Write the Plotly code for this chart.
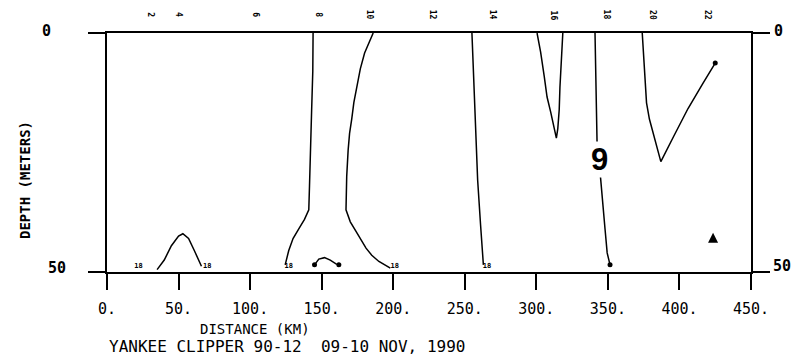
import plotly.graph_objects as go

# ---- data (distance km, depth m) ----
tick_km = [0, 50, 100, 150, 200, 250, 300, 350, 400, 450]
tick_text = ["0.", "50.", "100.", "150.", "200.", "250.", "300.", "350.", "400.", "450."]

station_km = [30.7, 50.3, 104, 148, 184, 228, 270, 312, 349, 381.5, 420]
station_text = ["2", "4", "6", "8", "10", "12", "14", "16", "18", "20", "22"]

c_a_km = [35, 40, 45, 50, 53, 57, 61, 64, 66]
c_a_dep = [49.5, 47.5, 44.5, 42.5, 42, 43, 45.5, 47.5, 48.8]
c_b_km = [144, 143.8, 143, 142.5, 141.5, 141, 138, 134, 130, 127, 124.5]
c_b_dep = [0, 8, 16, 24, 32, 37, 39, 41, 43, 45.5, 48.5]
c_c_km = [186, 183, 180, 177, 174.5, 172.5, 171, 169.5, 168.5, 167.5, 167, 170, 174, 177, 181, 185, 190, 198]
c_c_dep = [0, 2, 4.2, 7.5, 11.3, 14.5, 18, 21, 24.5, 30, 37, 39.5, 41.5, 43, 45, 46.5, 47.8, 49.2]
c_d_km = [145, 148, 152, 156, 160, 162]
c_d_dep = [48.5, 47.3, 47, 47.5, 48.3, 48.5]
c_e_km = [255, 256, 257, 258, 259, 261, 263]
c_e_dep = [0, 8, 16, 24, 30.8, 40, 48.5]
c_f_km = [300.5, 303, 305.5, 307.5, 310, 312, 314, 315, 316, 316.5, 317.5, 318.5]
c_f_dep = [0, 4, 9, 13.4, 16.5, 19.5, 22, 20, 16, 11.3, 5, 0]
c_g_km = [341, 341.5, 342, 342.5, 344.5, 346.5, 348, 349.5, 351.5]
c_g_dep = [0, 8, 16, 24, 29, 35, 41, 46, 48.5]
c_h_km = [374, 375.5, 377, 379, 381.8, 384.5, 387, 396, 406, 416.5, 425]
c_h_dep = [0, 7, 14.6, 18, 21, 24.3, 26.9, 21.6, 15.8, 10.5, 6.3]

contours = [(c_a_km, c_a_dep), (c_b_km, c_b_dep), (c_c_km, c_c_dep), (c_d_km, c_d_dep),
            (c_e_km, c_e_dep), (c_f_km, c_f_dep), (c_g_km, c_g_dep), (c_h_km, c_h_dep)]

dot_km = [145, 162, 351.5, 425]
dot_dep = [48.5, 48.5, 48.5, 6.3]

top_lab_km = [147.5, 189, 256.5, 300.5, 320, 341, 373]
top_lab_text = ["18", "14", "18", "18", "18", "9", "9"]
bot_lab_km = [22, 70, 127, 201, 265.5]
bot_lab_text = ["18", "18", "18", "18", "18"]

big_label_km, big_label_dep, big_label_text = [344], [26.5], ["9"]
arrow_km, arrow_dep = [423.5], [41.8]

MONO = "DejaVu Sans Mono"

fig = go.Figure()
for xs, ys in contours:
    fig.add_trace(go.Scatter(x=xs, y=ys, mode="lines", line=dict(color="black", width=1.5),
                             showlegend=False, hoverinfo="skip"))
fig.add_trace(go.Scatter(x=dot_km, y=dot_dep, mode="markers",
                         marker=dict(color="black", size=5), showlegend=False))
fig.add_trace(go.Scatter(x=arrow_km, y=arrow_dep, mode="markers",
                         marker=dict(color="black", size=10, symbol="arrow-up"), showlegend=False))
fig.add_trace(go.Scatter(x=top_lab_km, y=[-0.6] * len(top_lab_km), mode="text",
                         text=["<b>%s</b>" % t for t in top_lab_text],
                         textfont=dict(family=MONO, size=7, color="black"), cliponaxis=False,
                         showlegend=False))
fig.add_trace(go.Scatter(x=bot_lab_km, y=[48.8] * len(bot_lab_km), mode="text",
                         text=["<b>%s</b>" % t for t in bot_lab_text],
                         textfont=dict(family=MONO, size=7, color="black"), cliponaxis=False,
                         showlegend=False))

for km, t in zip(station_km, station_text):
    fig.add_annotation(x=km, xref="x", y=1.075, yref="paper", yanchor="middle", xanchor="center",
                       text="<b>%s</b>" % t, textangle=90,
                       showarrow=False, font=dict(family=MONO, size=8, color="black"))

fig.add_annotation(x=big_label_km[0], y=big_label_dep[0], xref="x", yref="y", text="<b>%s</b>" % big_label_text[0],
                   showarrow=False, bgcolor="white", borderpad=0, xanchor="center", yanchor="middle",
                   font=dict(family="Liberation Sans", size=31, color="black"))

# axis annotations
fig.add_annotation(x=0.2298, y=-0.2385, xref="paper", yref="paper", text="DISTANCE (KM)",
                   xanchor="center", yanchor="middle",
                   showarrow=False, font=dict(family=MONO, size=14, color="black"))
fig.add_annotation(x=0.0, y=-0.3125, xref="paper", yref="paper", xanchor="left", yanchor="middle",
                   text="YANKEE CLIPPER 90-12  09-10 NOV, 1990",
                   showarrow=False, font=dict(family=MONO, size=16, color="black"))
fig.add_annotation(x=-0.1273, y=0.385, xref="paper", yref="paper", text="<b>DEPTH (METERS)</b>",
                   xanchor="center", yanchor="middle",
                   textangle=-90, showarrow=False, font=dict(family=MONO, size=14, color="black"))
for xp, yp, t in [(-0.0932, 1.008, "0"), (-0.0776, 0.017, "50"), (1.042, 1.008, "0"), (1.048, 0.025, "50")]:
    fig.add_annotation(x=xp, y=yp, xref="paper", yref="paper", text="<b>%s</b>" % t,
                       xanchor="center", yanchor="middle",
                       showarrow=False, font=dict(family=MONO, size=15, color="black"))

# page body has an 8px default margin: shrink the figure to compensate
fig.update_layout(
    width=791, height=355,
    margin=dict(l=99, r=48, t=25, b=91),
    paper_bgcolor="white", plot_bgcolor="white",
    xaxis=dict(range=[0, 450], tickvals=tick_km, ticktext=tick_text, ticks="outside", ticklen=16,
               tickwidth=1.5, tickcolor="black", showline=True, linecolor="black", linewidth=2,
               mirror=True, showgrid=False, zeroline=False, ticklabelstandoff=6,
               tickfont=dict(family=MONO, size=15, color="black")),
    yaxis=dict(range=[50, 0], tickvals=[0, 50], ticks="outside", ticklen=17, tickwidth=2,
               tickcolor="black", showline=True, linecolor="black", linewidth=2, mirror="ticks",
               showgrid=False, zeroline=False, showticklabels=False),
)

fig.write_html("out.html")
